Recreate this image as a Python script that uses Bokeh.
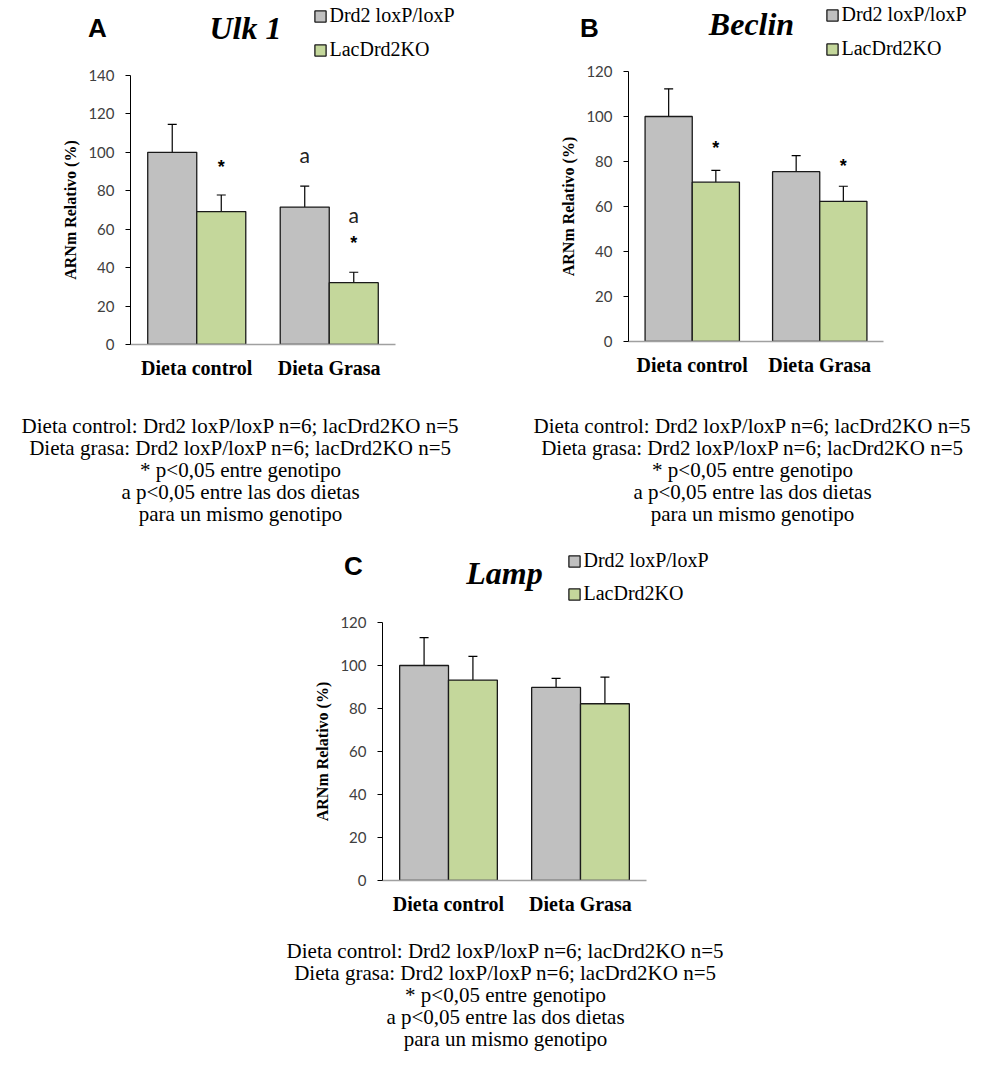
from bokeh.plotting import figure
from bokeh.models import (ColumnDataSource, FactorRange, Range1d, FixedTicker, Whisker,
                          TeeHead, Legend, LegendItem, Label)
from bokeh.transform import dodge
from bokeh.layouts import column, row
from bokeh.embed import file_html
from bokeh.resources import INLINE

# ---------------- data ----------------
groups = ["Dieta control", "Dieta Grasa"]
series_names = ["Drd2 loxP/loxP", "LacDrd2KO"]

ulk1_loxp = [100.0, 71.5]
ulk1_loxp_err = [14.6, 10.9]
ulk1_ko = [69.2, 32.2]
ulk1_ko_err = [8.6, 5.4]

beclin_loxp = [100.0, 75.5]
beclin_loxp_err = [12.3, 7.1]
beclin_ko = [70.8, 62.3]
beclin_ko_err = [5.3, 6.7]

lamp_loxp = [100.0, 89.8]
lamp_loxp_err = [13.0, 4.2]
lamp_ko = [93.2, 82.2]
lamp_ko_err = [11.0, 12.4]

# significance marks: (group index, series index, mark, y value)
ulk1_marks = [(0, 1, "*", 92.5), (1, 0, "a", 99.0), (1, 1, "a", 67.5), (1, 1, "*", 53.0)]
beclin_marks = [(0, 1, "*", 86.0), (1, 1, "*", 78.0)]
lamp_marks = []

note_lines = [
    "Dieta control: Drd2 loxP/loxP n=6; lacDrd2KO n=5",
    "Dieta grasa: Drd2 loxP/loxP n=6; lacDrd2KO n=5",
    "* p<0,05 entre genotipo",
    "a p<0,05 entre las dos dietas",
    "para un mismo genotipo",
]

GRAY = "#C0C0C0"
GREEN = "#C4D79B"
EDGE = "#1a1a1a"
SERIF = "Liberation Serif"
SANS = "Liberation Sans"
TICKF = "Lato"
BAR_W = 0.37
OFFS = [-0.185, 0.185]


def text_fig(W, H):
    f = figure(width=W, height=H, x_range=Range1d(0, W), y_range=Range1d(H, 0),
               x_axis_type=None, y_axis_type=None, output_backend="svg",
               toolbar_location=None, min_border=0)
    f.frame_align = False
    f.outline_line_color = None
    f.background_fill_color = "white"
    f.border_fill_color = "white"
    return f


def header(letter, gene, loxp, ko, g):
    W, H = g["W"], g["hh"]
    f = text_fig(W, H)
    lx, ly = g["letter"]
    f.add_layout(Label(x=lx, y=ly, text=letter, text_font=SANS, text_font_style="bold",
                       text_font_size="26px", text_align="center", text_baseline="middle",
                       text_color="black"))
    gx, gy = g["gene"]
    f.add_layout(Label(x=gx, y=gy, text=gene, text_font=SERIF,
                       text_font_style="bold italic", text_font_size="32px",
                       text_align="center", text_baseline="middle", text_color="black"))
    # legend keys: hidden copies of the bar series (not drawn), used only by the legend
    sx, rows = g["leg"]
    for name, col, vals, cy in zip(series_names, [GRAY, GREEN], [loxp, ko], rows):
        r = f.vbar(x=list(range(len(groups))), top=vals, width=BAR_W, fill_color=col,
                   line_color=EDGE, line_width=1.3, visible=False)
        leg = Legend(items=[LegendItem(label=name, renderers=[r])],
                     location=(sx - 1.5, H - (cy + 10)), padding=0, margin=0,
                     glyph_width=14, glyph_height=14, label_height=20, label_standoff=3,
                     label_text_font=SERIF, label_text_font_size="20px",
                     label_text_color="black", border_line_color=None,
                     background_fill_alpha=0, click_policy="none")
        f.add_layout(leg)
    return f


def notes(g):
    W, H = g["W"], g["nh"]
    f = text_fig(W, H)
    cx, y1 = g["notes"]
    for k, line in enumerate(note_lines):
        f.add_layout(Label(x=cx, y=y1 + 22 * k, text=line, text_font=SERIF,
                           text_font_size="21px", text_align="center", text_baseline="middle",
                           text_color="black"))
    return f


def chart(loxp, loxp_err, ko, ko_err, ymax, marks, g):
    W, H, L, R, T, B = g["W"], g["H"], g["L"], g["R"], g["T"], g["B"]
    p = figure(width=W, height=H, x_range=FactorRange(*groups, range_padding=0),
               y_range=Range1d(0, ymax), output_backend="svg", toolbar_location=None,
               min_border_left=L, min_border_right=R, min_border_top=T, min_border_bottom=B)
    p.frame_align = False
    p.outline_line_color = None
    p.xgrid.visible = False
    p.ygrid.visible = False
    p.background_fill_color = "white"
    p.border_fill_color = "white"

    src = ColumnDataSource(dict(
        cat=groups, loxp=loxp, ko=ko,
        loxp_hi=[v + e for v, e in zip(loxp, loxp_err)],
        ko_hi=[v + e for v, e in zip(ko, ko_err)],
    ))

    p.vbar(x=dodge("cat", OFFS[0], range=p.x_range), top="loxp", width=BAR_W, source=src,
           fill_color=GRAY, line_color=EDGE, line_width=1.3)
    p.vbar(x=dodge("cat", OFFS[1], range=p.x_range), top="ko", width=BAR_W, source=src,
           fill_color=GREEN, line_color=EDGE, line_width=1.3)

    for off, lo, hi in [(OFFS[0], "loxp", "loxp_hi"), (OFFS[1], "ko", "ko_hi")]:
        w = Whisker(source=src, base=dodge("cat", off, range=p.x_range), lower=lo, upper=hi,
                    line_color="black", line_width=1.2,
                    upper_head=TeeHead(size=9, line_color="black", line_width=1.2),
                    lower_head=None)
        p.add_layout(w)

    yax = p.yaxis[0]
    yax.ticker = FixedTicker(ticks=list(range(0, int(ymax) + 1, 20)))
    yax.major_label_text_font = TICKF
    yax.major_label_text_font_size = "15px"
    yax.major_label_text_color = "#404040"
    yax.axis_line_color = "black"
    yax.axis_line_width = 1
    yax.major_tick_line_color = "black"
    yax.major_tick_out = 5
    yax.major_tick_in = 0
    yax.minor_tick_out = 0
    yax.minor_tick_in = 0
    yax.major_label_standoff = 11
    yax.axis_label = "ARNm Relativo (%)"
    yax.axis_label_text_font = SERIF
    yax.axis_label_text_font_style = "bold"
    yax.axis_label_text_font_size = "16px"
    yax.axis_label_text_color = "black"
    yax.axis_label_standoff = 6

    xax = p.xaxis[0]
    xax.major_label_text_font = SERIF
    xax.major_label_text_font_style = "bold"
    xax.major_label_text_font_size = "20px"
    xax.major_label_text_color = "black"
    xax.axis_line_color = "#A0A0A0"
    xax.axis_line_width = 1.5
    xax.major_tick_out = 0
    xax.major_tick_in = 0
    xax.minor_tick_out = 0
    xax.major_label_standoff = 12

    for gi, si, t, yv in marks:
        if t == "*":
            p.add_layout(Label(x=gi + 0.5 + OFFS[si], y=yv, text=t, text_font=SANS,
                               text_font_style="bold", text_font_size="18px",
                               text_align="center", text_baseline="middle", text_color="black"))
        else:
            p.add_layout(Label(x=gi + 0.5 + OFFS[si], y=yv, text=t, text_font=TICKF,
                               text_font_size="21px", text_align="center",
                               text_baseline="middle", text_color="#222222"))
    return p


# geometry (pixels): header height hh, chart figure H/borders, notes height nh
geomA = dict(W=492, hh=61, H=323, L=130, R=97, T=14, B=40, nh=151,
             letter=(97, 27), gene=(245, 27), leg=(314, (17, 51)), notes=(240, 41))
geomB = dict(W=492, hh=61, H=320, L=136, R=101, T=10, B=40, nh=154,
             letter=(97, 27), gene=(259, 23), leg=(334, (16, 50)), notes=(260, 44))
geomC = dict(W=984, hh=76, H=309, L=382, R=338, T=11, B=40, nh=147,
             letter=(353, 30), gene=(504, 37), leg=(568, (27, 60)), notes=(505, 30))


def panel(letter, gene, loxp, loxp_err, ko, ko_err, ymax, marks, g):
    return column(header(letter, gene, loxp, ko, g),
                  chart(loxp, loxp_err, ko, ko_err, ymax, marks, g),
                  notes(g))


pA = panel("A", "Ulk 1", ulk1_loxp, ulk1_loxp_err, ulk1_ko, ulk1_ko_err, 140, ulk1_marks, geomA)
pB = panel("B", "Beclin", beclin_loxp, beclin_loxp_err, beclin_ko, beclin_ko_err, 120, beclin_marks, geomB)
pC = panel("C", "Lamp", lamp_loxp, lamp_loxp_err, lamp_ko, lamp_ko_err, 120, lamp_marks, geomC)

layout = column(row(pA, pB), pC)
open("out.html", "w").write(file_html(layout, INLINE))
